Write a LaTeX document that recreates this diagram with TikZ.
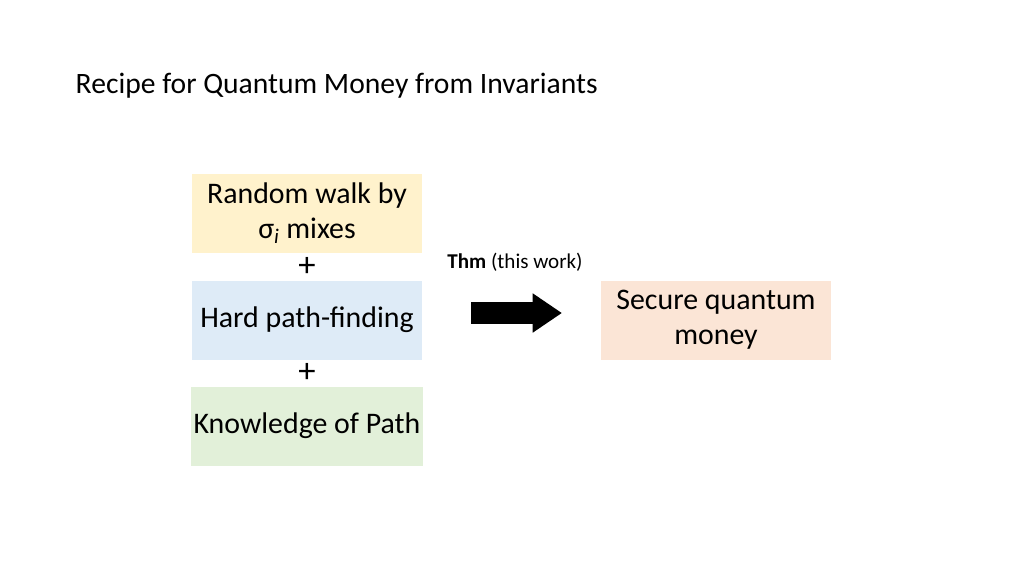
\documentclass[tikz,border=0pt]{standalone}
\usepackage{fontspec}
\setmainfont{Carlito}
\usetikzlibrary{arrows.meta}
\definecolor{box-yellow}{RGB}{255,242,204}
\definecolor{box-blue}{RGB}{222,235,247}
\definecolor{box-green}{RGB}{226,240,217}
\definecolor{box-peach}{RGB}{251,229,214}
\tikzstyle{b}=[fill=#1,draw=none,minimum width=230*0.75pt,minimum height=79*0.75pt,align=center,font=\fontsize{22.4}{26}\selectfont,inner sep=2pt]
\tikzstyle{plus}=[font=\fontsize{26}{28}\selectfont,inner sep=0pt]
\begin{document}
\begin{tikzpicture}[x=0.75pt,y=-0.75pt]
\useasboundingbox (0,0) rectangle (1024,576);

% Nodes
\node[anchor=west,font=\fontsize{22.2}{26}\selectfont] (title) at (71,86) {Recipe for Quantum Money from Invariants};
\node[b=box-yellow] (walk)   at (307,213) {Random walk by\\σ\textsubscript{\textit{i}} mixes};
\node[plus]         (plus1)  at (307,267) {+};
\node[b=box-blue]   (hard)   at (307,320) {Hard path-finding};
\node[plus]         (plus2)  at (307,373) {+};
\node[b=box-green]  (know)   at (307,426) {Knowledge of Path};
\node[b=box-peach]  (secure) at (716,320) {Secure quantum\\money};
\node[font=\fontsize{15.8}{18}\selectfont] (thm) at (515,262) {\textbf{Thm} (this work)};
\coordinate (arrow tail) at (471,313);
\coordinate (arrow head) at (562,313);

% Edges
\draw[line width=16pt,-{Triangle[length=22pt,width=28pt]}] (arrow tail) -- (arrow head);

\end{tikzpicture}
\end{document}
